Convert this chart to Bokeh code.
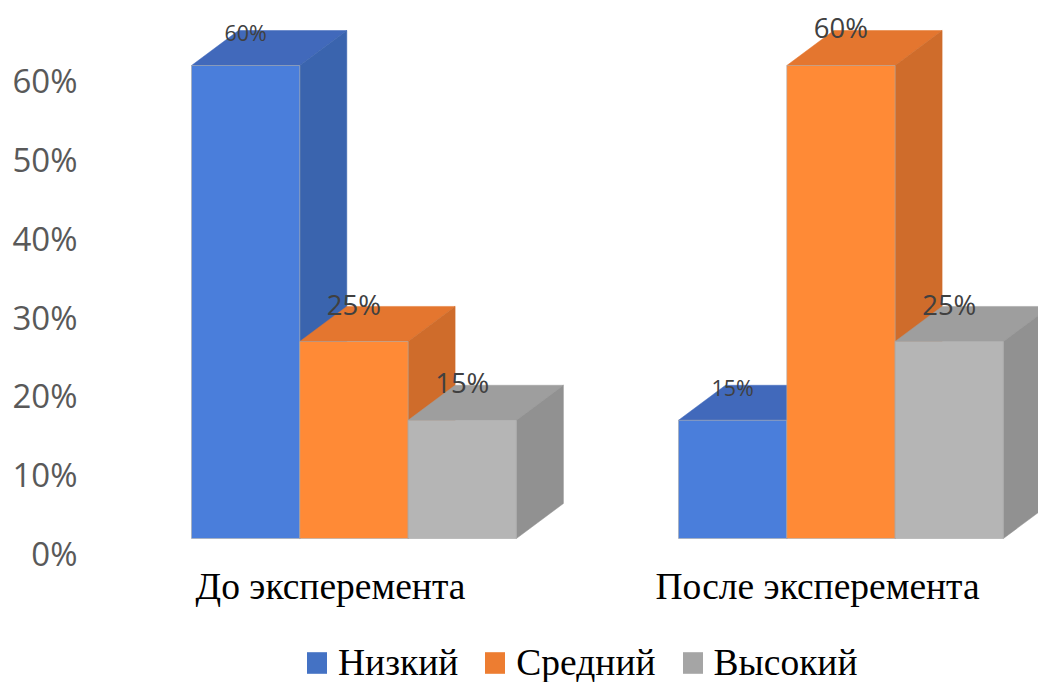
from bokeh.plotting import figure
from bokeh.layouts import column
from bokeh.models import Range1d, LinearAxis, FixedTicker, NumeralTickFormatter, Legend, LegendItem
from bokeh.core.properties import value
from bokeh.embed import file_html
from bokeh.resources import INLINE

categories = ["До эксперемента", "После эксперемента"]
series_names = ["Низкий", "Средний", "Высокий"]
low = [0.60, 0.15]
medium = [0.25, 0.60]
high = [0.15, 0.25]
y_ticks = [0, 0.1, 0.2, 0.3, 0.4, 0.5, 0.6]

series = [low, medium, high]
front = ["#4a7edb", "#ff8a36", "#b5b5b5"]
top_c = ["#4169bb", "#e4762f", "#9e9e9e"]
side = ["#3a64ae", "#cf6c2b", "#919191"]
legend_c = ["#4472c4", "#ed7d31", "#a5a5a5"]
label_sizes = [["21.5px", "21.5px"], ["27.5px", "27.5px"], ["27.5px", "27.5px"]]
label_lifts = [[33, 33], [37, 38], [38, 37]]

W, H, LEG_H = 1038, 640, 42
F_LEFT, F_TOP, F_BOTTOM = 80, 0, 560
PX_X = 487.0
PX_Y = 788.3
X0 = 330.0
BASE = 538.0

p = figure(width=W, height=H, output_backend="svg", toolbar_location=None,
           x_range=Range1d((F_LEFT - X0) / PX_X, (W - X0) / PX_X),
           y_range=Range1d((BASE - F_BOTTOM) / PX_Y, (BASE - F_TOP) / PX_Y),
           min_border_left=F_LEFT, min_border_right=0, min_border_top=0,
           min_border_bottom=H - F_BOTTOM, y_axis_location=None, x_axis_location="below")
p.outline_line_color = None
p.grid.visible = False
p.background_fill_color = "white"

# value axis: labels sit below the bars' front floor
p.extra_y_ranges["axis"] = Range1d((553 - F_BOTTOM) / PX_Y, (553 - F_TOP) / PX_Y)
yax = LinearAxis(y_range_name="axis", ticker=FixedTicker(ticks=y_ticks),
                 formatter=NumeralTickFormatter(format="0%"))
yax.axis_line_color = None
yax.major_tick_line_color = None
yax.minor_tick_line_color = None
yax.major_tick_in = 0
yax.major_tick_out = 0
yax.major_label_standoff = 3
yax.major_label_text_font = "Open Sans"
yax.major_label_text_font_size = "33px"
yax.major_label_text_color = "#595959"
p.add_layout(yax, "left")

xax = p.xaxis[0]
xax.ticker = FixedTicker(ticks=list(range(len(categories))))
xax.major_label_overrides = {i: c for i, c in enumerate(categories)}
xax.axis_line_color = None
xax.major_tick_line_color = None
xax.minor_tick_line_color = None
xax.major_tick_in = 0
xax.major_tick_out = 0
xax.major_label_standoff = 5
xax.major_label_text_font = "Liberation Serif"
xax.major_label_text_font_size = "37.5px"
xax.major_label_text_color = "#000000"

bw = 108.3 / PX_X
start = (191 - X0) / PX_X
dx = 47 / PX_X
dy = 35 / PX_Y
edge = "#a8a8a8"

for s, vals in enumerate(series):
    lefts = [g + start + s * bw for g in range(len(vals))]
    p.patches([[l, l + dx, l + bw + dx, l + bw] for l in lefts],
              [[v, v + dy, v + dy, v] for v in vals],
              fill_color=top_c[s], line_color=top_c[s], line_width=0.5)
    p.patches([[l + bw, l + bw + dx, l + bw + dx, l + bw] for l in lefts],
              [[0, dy, v + dy, v] for v in vals],
              fill_color=side[s], line_color=side[s], line_width=0.5)
    p.vbar(x=[l + bw / 2 for l in lefts], width=bw, bottom=0, top=vals,
           fill_color=front[s], line_color=edge, line_width=0.6)

for s, vals in enumerate(series):
    lefts = [g + start + s * bw for g in range(len(vals))]
    for i, v in enumerate(vals):
        p.text(x=[lefts[i] + bw / 2], y=[v + label_lifts[s][i] / PX_Y], text=[f"{round(v * 100)}%"],
               text_font=value("Open Sans"), text_font_size=label_sizes[s][i],
               text_color="#404040", text_align="center", text_baseline="middle")

# legend strip under the chart; its bars lie outside the strip's visible ranges
lf = figure(width=W, height=LEG_H, output_backend="svg", toolbar_location=None,
            x_range=Range1d(10, 11), y_range=Range1d(10, 11),
            min_border_left=0, min_border_right=0, min_border_top=0, min_border_bottom=0,
            x_axis_location=None, y_axis_location=None)
lf.outline_line_color = None
lf.grid.visible = False
items = []
for s, name in enumerate(series_names):
    r = lf.vbar(x=list(range(len(series[s]))), width=0.5, bottom=0, top=series[s],
                fill_color=legend_c[s], line_color=None)
    items.append(LegendItem(label=name, renderers=[r]))
legend = Legend(items=items, orientation="horizontal", location=(224, -2),
                glyph_width=25, glyph_height=27, label_standoff=9, spacing=24,
                padding=0, margin=0, background_fill_alpha=0, border_line_color=None,
                label_text_font="Liberation Serif", label_text_font_size="37.5px",
                label_text_color="#000000", label_height=30)
lf.add_layout(legend, "center")

layout = column(p, lf, spacing=0)
open("out.html", "w").write(file_html(layout, INLINE))
